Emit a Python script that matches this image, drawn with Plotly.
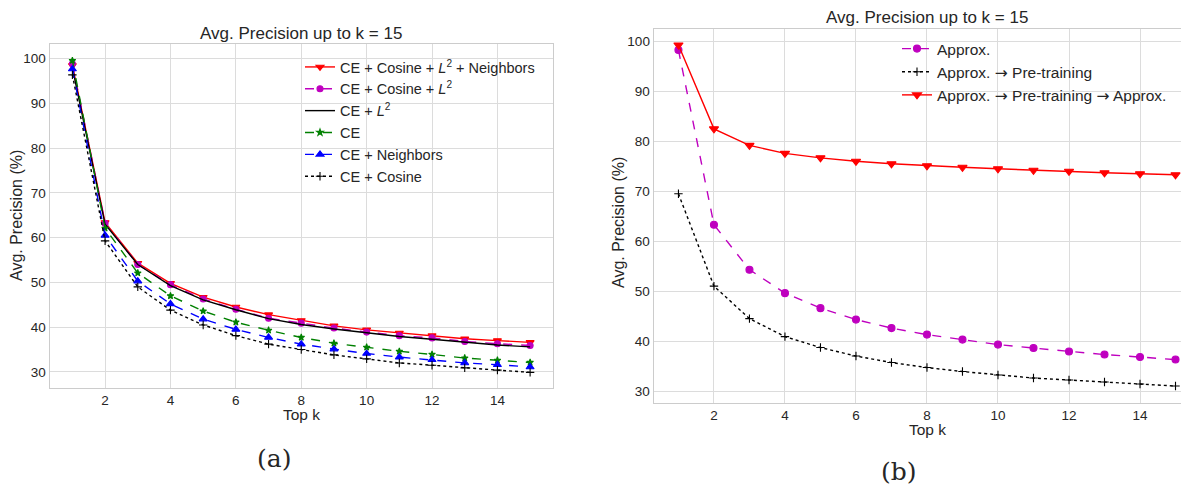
import plotly.graph_objects as go

k = list(range(1, 16))

# Left panel (a)
ce_cos_l2_nb = [98.5, 63.4, 54.3, 49.8, 46.7, 44.5, 42.8, 41.5, 40.3, 39.4, 38.7, 38.1, 37.4, 37.0, 36.6]
ce_cos_l2 = [98.9, 63.2, 54.0, 49.5, 46.3, 44.0, 42.0, 40.9, 39.8, 38.9, 38.1, 37.6, 36.8, 36.3, 35.9]
ce_l2 = [98.0, 63.0, 54.0, 49.3, 46.1, 43.9, 41.9, 40.6, 39.6, 38.7, 37.9, 37.3, 36.6, 36.0, 35.6]
ce = [99.6, 62.1, 52.1, 47.0, 43.6, 41.1, 39.3, 37.7, 36.4, 35.5, 34.6, 33.9, 33.1, 32.6, 32.1]
ce_nb = [97.7, 60.5, 50.3, 45.2, 41.8, 39.5, 37.7, 36.2, 35.1, 34.1, 33.3, 32.7, 32.0, 31.6, 31.1]
ce_cos = [96.4, 59.3, 49.0, 43.8, 40.5, 38.1, 36.2, 35.0, 33.8, 32.9, 32.0, 31.5, 30.9, 30.4, 29.9]

# Right panel (b)
approx = [98.3, 63.3, 54.3, 49.6, 46.6, 44.3, 42.6, 41.3, 40.3, 39.3, 38.6, 37.9, 37.3, 36.8, 36.3]
approx_pre = [69.5, 51.0, 44.5, 40.9, 38.7, 37.0, 35.7, 34.7, 33.9, 33.2, 32.6, 32.2, 31.8, 31.4, 31.0]
approx_pre_approx = [99.3, 82.5, 79.2, 77.6, 76.7, 76.0, 75.5, 75.1, 74.8, 74.5, 74.2, 74.0, 73.7, 73.5, 73.3]

x_ticks = [2, 4, 6, 8, 10, 12, 14]
y_ticks = [30, 40, 50, 60, 70, 80, 90, 100]
title_text = "Avg. Precision up to k = 15"

FONT = "Liberation Sans, Arial, sans-serif"
TXT = "#262626"
OFF = 8  # page body margin
W, H = 1189 - OFF, 491 - OFF
ARROW = '<span style="font-family:DejaVu Sans">\u2192</span>'

def px(x):
    return (x - OFF) / W

def py(y):
    return 1 - (y - OFF) / H

fig = go.Figure()

def add(xax, yax, y, name, color, dash, symbol, size, width=1.4, legend="legend"):
    fig.add_trace(go.Scatter(
        x=k, y=y, name=name, mode="lines+markers" if symbol else "lines",
        line=dict(color=color, dash=dash, width=width),
        marker=dict(symbol=symbol or "circle", size=size, color=color,
                    line=dict(color=color, width=1.1)),
        xaxis=xax, yaxis=yax, legend=legend))

add("x", "y", ce_cos_l2_nb, "CE + Cosine + <i>L</i><sup>2</sup> + Neighbors", "#ff0000", "solid", "triangle-down", 7)
add("x", "y", ce_cos_l2, "CE + Cosine + <i>L</i><sup>2</sup>", "#bf00bf", "dash", "circle", 6)
add("x", "y", ce_l2, "CE + <i>L</i><sup>2</sup>", "#000000", "solid", None, 0)
add("x", "y", ce, "CE", "#008000", "dash", "star", 5)
add("x", "y", ce_nb, "CE + Neighbors", "#0000ff", "dash", "triangle-up", 7)
add("x", "y", ce_cos, "CE + Cosine", "#000000", "dot", "cross-thin", 6)

add("x2", "y2", approx, "Approx.", "#bf00bf", "dash", "circle", 7, legend="legend2")
add("x2", "y2", approx_pre, "Approx. " + ARROW + " Pre-training", "#000000", "dot", "cross-thin", 6, legend="legend2")
add("x2", "y2", approx_pre_approx, "Approx. " + ARROW + " Pre-training " + ARROW + " Approx.", "#ff0000", "solid", "triangle-down", 8, legend="legend2")

# plot areas in window pixels
L1, R1, T1, B1 = 49.5, 553, 44, 388
L2, R2, T2, B2 = 653.6, 1189, 28.5, 403

axis_common = dict(showgrid=True, gridcolor="#dcdcdc", gridwidth=1, zeroline=False,
                   showline=True, linecolor="#cccccc", linewidth=1, mirror=True,
                   automargin=False, ticks="", tickfont=dict(family=FONT, size=13.5, color=TXT))

fig.update_layout(
    width=W, height=H, margin=dict(l=0, r=0, t=0, b=0, autoexpand=False),
    paper_bgcolor="white", plot_bgcolor="white",
    font=dict(family=FONT, color=TXT),
    xaxis=dict(domain=[px(L1), px(R1)], range=[0.3, 15.7], tickvals=x_ticks, anchor="y", **axis_common),
    yaxis=dict(domain=[py(B1), py(T1)], range=[26.4, 103.3], tickvals=y_ticks, anchor="x", **axis_common),
    xaxis2=dict(domain=[px(L2), 1.0], range=[0.3, 15.38], tickvals=x_ticks, anchor="y2", **axis_common),
    yaxis2=dict(domain=[py(B2), py(T2)], range=[27.6, 102.6], tickvals=y_ticks, anchor="x2", **axis_common),
    legend=dict(x=px(300), y=py(51), xanchor="left", yanchor="top", bgcolor="rgba(255,255,255,0)",
                font=dict(family=FONT, size=14.5, color=TXT), tracegroupgap=0, itemwidth=30),
    legend2=dict(x=px(897), y=py(32), xanchor="left", yanchor="top", bgcolor="rgba(255,255,255,0)",
                 font=dict(family=FONT, size=15.5, color=TXT), tracegroupgap=0, itemwidth=30),
    showlegend=True,
)

def ann(x, y, text, size=14, angle=0, family=FONT):
    fig.add_annotation(x=px(x), y=py(y), xref="paper", yref="paper", text=text, showarrow=False,
                       textangle=angle, font=dict(family=family, size=size, color=TXT),
                       xanchor="center", yanchor="middle")

ann(301, 33, title_text, 17)
ann(927, 17, title_text, 17)
ann(301, 414, "Top k", 15.5)
ann(927, 429, "Top k", 15.5)
ann(16, 216, "Avg. Precision (%)", 16, -90)
ann(618, 223, "Avg. Precision (%)", 16, -90)
ann(274, 458, "(a)", 25, family="DejaVu Serif, Liberation Serif, serif")
ann(899, 471, "(b)", 25, family="DejaVu Serif, Liberation Serif, serif")

fig.write_html("out.html")
